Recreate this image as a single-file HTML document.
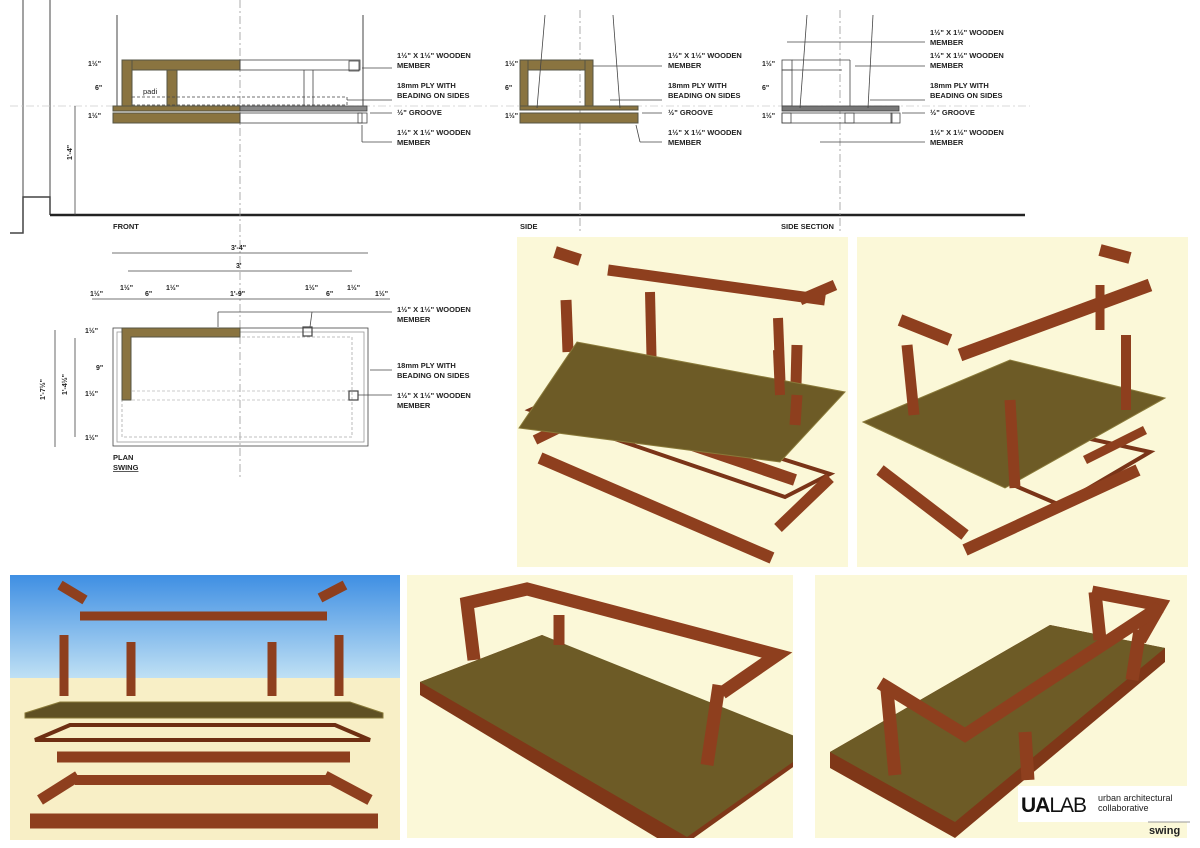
<!DOCTYPE html>
<html><head><meta charset="utf-8"><style>
body{margin:0;background:#fff;}
svg{display:block;font-family:"Liberation Sans",sans-serif;}
.l{font-size:7.5px;font-weight:bold;fill:#222;}
.d{font-size:7px;font-weight:bold;fill:#222;}
</style></head><body>
<svg width="1200" height="848" viewBox="0 0 1200 848" xmlns="http://www.w3.org/2000/svg">
<defs>
<linearGradient id="sky" x1="0" y1="0" x2="0" y2="1">
<stop offset="0" stop-color="#3f8fe3"/><stop offset="1" stop-color="#bfe0f4"/></linearGradient>
</defs>
<g stroke="#444" fill="none" stroke-width="1">
<line x1="23" y1="0" x2="23" y2="197"/><line x1="50" y1="0" x2="50" y2="215"/>
<line x1="117" y1="15" x2="117" y2="110"/><line x1="363" y1="15" x2="363" y2="110"/>
<polyline points="10,233 23,233 23,197 50,197 50,215" stroke-width="1.5"/>
</g>
<line x1="50" y1="215" x2="1025" y2="215" stroke="#222" stroke-width="2.5"/>
<g stroke="#999" stroke-dasharray="8,3,2,3" stroke-width="0.8">
<line x1="240" y1="0" x2="240" y2="480"/><line x1="580" y1="10" x2="580" y2="232"/><line x1="840" y1="10" x2="840" y2="232"/>
<line x1="10" y1="106" x2="1030" y2="106" stroke="#ccc"/>
</g>
<g fill="#8a7440" stroke="#554">
<rect x="122" y="60" width="118" height="10"/><rect x="122" y="60" width="10" height="48"/><rect x="167" y="70" width="10" height="38"/>
<rect x="113" y="106" width="127" height="5"/><rect x="113" y="113" width="127" height="10"/>
</g>
<g fill="none" stroke="#444" stroke-width="0.8">
<rect x="240" y="60" width="120" height="10"/><rect x="240" y="106" width="127" height="5" fill="#888"/><rect x="240" y="113" width="122" height="10"/>
<rect x="349" y="61" width="10" height="10"/><rect x="358" y="113" width="9" height="10"/>
<line x1="304" y1="70" x2="304" y2="106"/><line x1="313" y1="70" x2="313" y2="106"/>
<rect x="132" y="97" width="215" height="8" stroke-dasharray="3,2"/>
<line x1="75" y1="106" x2="75" y2="215"/>
<line x1="362" y1="68" x2="392" y2="68"/><line x1="347" y1="100" x2="392" y2="100"/><line x1="370" y1="113" x2="392" y2="113"/><line x1="362" y1="125" x2="362" y2="142"/><line x1="362" y1="142" x2="392" y2="142"/>
</g>
<text class="l" x="143" y="94" style="font-weight:normal">padi</text>
<text class="d" transform="translate(72,160) rotate(-90)">1'-4"</text>
<text class="d" x="88" y="66">1½"</text><text class="d" x="95" y="90">6"</text><text class="d" x="88" y="118">1½"</text>
<g class="l">
<text x="397" y="58">1½" X 1½" WOODEN</text><text x="397" y="68">MEMBER</text>
<text x="397" y="88">18mm PLY WITH</text><text x="397" y="98">BEADING ON SIDES</text>
<text x="397" y="115">½" GROOVE</text>
<text x="397" y="135">1½" X 1½" WOODEN</text><text x="397" y="145">MEMBER</text>
<text x="668" y="58">1½" X 1½" WOODEN</text><text x="668" y="68">MEMBER</text>
<text x="668" y="88">18mm PLY WITH</text><text x="668" y="98">BEADING ON SIDES</text>
<text x="668" y="115">½" GROOVE</text>
<text x="668" y="135">1½" X 1½" WOODEN</text><text x="668" y="145">MEMBER</text>
<text x="930" y="35">1½" X 1½" WOODEN</text><text x="930" y="45">MEMBER</text>
<text x="930" y="58">1½" X 1½" WOODEN</text><text x="930" y="68">MEMBER</text>
<text x="930" y="88">18mm PLY WITH</text><text x="930" y="98">BEADING ON SIDES</text>
<text x="930" y="115">½" GROOVE</text>
<text x="930" y="135">1½" X 1½" WOODEN</text><text x="930" y="145">MEMBER</text>
<text x="113" y="229">FRONT</text><text x="520" y="229">SIDE</text><text x="781" y="229">SIDE SECTION</text>
</g>
<g fill="#8a7440" stroke="#554">
<rect x="520" y="60" width="73" height="10"/><rect x="520" y="60" width="8" height="48"/><rect x="585" y="60" width="8" height="48"/>
<rect x="520" y="106" width="118" height="4"/><rect x="520" y="113" width="118" height="10"/>
</g>
<g fill="none" stroke="#444" stroke-width="0.8">
<line x1="545" y1="15" x2="537" y2="108"/><line x1="613" y1="15" x2="620" y2="108"/>
<line x1="593" y1="66" x2="662" y2="66"/><line x1="610" y1="100" x2="662" y2="100"/><line x1="642" y1="113" x2="662" y2="113"/><line x1="636" y1="125" x2="640" y2="142"/><line x1="640" y1="142" x2="662" y2="142"/>
<rect x="782" y="60" width="10" height="10"/><rect x="782" y="70" width="10" height="36"/><line x1="792" y1="60" x2="850" y2="60"/><line x1="850" y1="60" x2="850" y2="106"/><line x1="792" y1="70" x2="842" y2="70"/>
<rect x="782" y="106" width="117" height="5" fill="#777"/><rect x="782" y="113" width="110" height="10"/>
<rect x="782" y="113" width="9" height="10"/><rect x="845" y="113" width="9" height="10"/><rect x="891" y="113" width="9" height="10"/>
<line x1="807" y1="15" x2="800" y2="108"/><line x1="873" y1="15" x2="868" y2="108"/>
<line x1="787" y1="42" x2="925" y2="42"/><line x1="855" y1="66" x2="925" y2="66"/><line x1="870" y1="100" x2="925" y2="100"/><line x1="902" y1="113" x2="925" y2="113"/><line x1="820" y1="142" x2="925" y2="142"/>
</g>
<text class="d" x="505" y="66">1½"</text><text class="d" x="505" y="90">6"</text><text class="d" x="505" y="118">1½"</text>
<text class="d" x="762" y="66">1½"</text><text class="d" x="762" y="90">6"</text><text class="d" x="762" y="118">1½"</text>
<g fill="none" stroke="#444" stroke-width="0.8">
<rect x="113" y="328" width="255" height="118"/><rect x="117" y="332" width="247" height="110" stroke="#999"/>
<rect x="122" y="337" width="230" height="100" stroke="#aaa" stroke-dasharray="3,2"/>
<line x1="122" y1="391" x2="352" y2="391" stroke="#bbb" stroke-dasharray="3,2"/><line x1="122" y1="400" x2="352" y2="400" stroke="#bbb" stroke-dasharray="3,2"/>
<rect x="303" y="327" width="9" height="9" stroke-width="1.2"/><rect x="349" y="391" width="9" height="9" stroke-width="1.2"/>
<line x1="112" y1="253" x2="368" y2="253"/><line x1="128" y1="271" x2="352" y2="271"/><line x1="92" y1="299" x2="390" y2="299"/>
<line x1="55" y1="330" x2="55" y2="447"/><line x1="75" y1="338" x2="75" y2="437"/>
<line x1="218" y1="327" x2="218" y2="312"/><line x1="218" y1="312" x2="392" y2="312"/><line x1="310" y1="327" x2="312" y2="312"/>
<line x1="370" y1="370" x2="392" y2="370"/><line x1="358" y1="395" x2="392" y2="395"/>
</g>
<path d="M122 328H240V337H131V400H122Z" fill="#8a7440" stroke="#554"/>
<g class="d"><text x="231" y="250">3'-4"</text><text x="236" y="268">3'</text><text x="230" y="296">1'-9"</text>
<text x="90" y="296">1½"</text><text x="120" y="290">1½"</text><text x="145" y="296">6"</text><text x="166" y="290">1½"</text><text x="305" y="290">1½"</text><text x="326" y="296">6"</text><text x="347" y="290">1½"</text><text x="375" y="296">1½"</text>
<text x="85" y="333">1½"</text><text x="96" y="370">9"</text><text x="85" y="396">1½"</text><text x="85" y="440">1½"</text>
<text transform="translate(45,400) rotate(-90)">1'-7½"</text><text transform="translate(67,395) rotate(-90)">1'-4½"</text></g>
<g class="l"><text x="397" y="312">1½" X 1½" WOODEN</text><text x="397" y="322">MEMBER</text>
<text x="397" y="368">18mm PLY WITH</text><text x="397" y="378">BEADING ON SIDES</text>
<text x="397" y="398">1½" X 1½" WOODEN</text><text x="397" y="408">MEMBER</text>
<text x="113" y="460">PLAN</text><text x="113" y="470" text-decoration="underline">SWING</text></g>

<rect x="517" y="237" width="331" height="330" fill="#fbf8d8"/>
<g stroke="#8e3f1e" stroke-linecap="butt" fill="none">
<line x1="555" y1="252" x2="580" y2="260" stroke-width="12"/>
<line x1="608" y1="270" x2="825" y2="300" stroke-width="11"/>
<line x1="800" y1="300" x2="835" y2="285" stroke-width="11"/>
<line x1="566" y1="300" x2="568" y2="352" stroke-width="11"/><line x1="650" y1="292" x2="652" y2="378" stroke-width="10"/>
<line x1="778" y1="318" x2="781" y2="395" stroke-width="10"/><line x1="797" y1="345" x2="795" y2="425" stroke-width="11"/>
<polygon points="530,410 570,392 830,474 785,497" stroke-width="4" stroke="#7a3418"/>
<line x1="575" y1="405" x2="795" y2="480" stroke-width="12"/>
<line x1="535" y1="440" x2="580" y2="418" stroke-width="10"/>
<line x1="540" y1="458" x2="772" y2="558" stroke-width="12"/>
<line x1="778" y1="528" x2="830" y2="478" stroke-width="11"/>
</g>
<polygon points="519,428 577,342 845,392 780,462" fill="#6d5b26" stroke="#8a7a3a"/>
<line x1="797" y1="395" x2="795" y2="425" stroke="#8e3f1e" stroke-width="11"/>
<line x1="778" y1="350" x2="780" y2="395" stroke="#8e3f1e" stroke-width="10"/>
<rect x="857" y="237" width="331" height="330" fill="#fbf8d8"/>
<g stroke="#8e3f1e" fill="none">
<line x1="1100" y1="250" x2="1130" y2="258" stroke-width="12"/>
<line x1="900" y1="320" x2="950" y2="340" stroke-width="12"/>
<line x1="960" y1="355" x2="1150" y2="285" stroke-width="13"/>
<line x1="1100" y1="285" x2="1100" y2="330" stroke-width="9"/>
<polygon points="880,428 935,405 1150,452 1060,505" stroke-width="4" stroke="#7a3418"/>
<line x1="1085" y1="460" x2="1145" y2="430" stroke-width="9"/>
<line x1="880" y1="470" x2="965" y2="535" stroke-width="12"/>
<line x1="965" y1="550" x2="1138" y2="470" stroke-width="12"/>
</g>
<polygon points="863,422 1010,360 1165,398 1005,488" fill="#6d5b26" stroke="#8a7a3a"/>
<g stroke="#8e3f1e" fill="none">
<line x1="907" y1="345" x2="914" y2="415" stroke-width="11"/><line x1="1010" y1="400" x2="1015" y2="488" stroke-width="11"/>
<line x1="1126" y1="335" x2="1126" y2="410" stroke-width="10"/>
</g>
<rect x="10" y="575" width="390" height="265" fill="#f8efc6"/>
<rect x="10" y="575" width="390" height="103" fill="url(#sky)"/>
<g stroke="#8e3f1e" fill="none">
<line x1="60" y1="585" x2="85" y2="600" stroke-width="10"/><line x1="320" y1="598" x2="345" y2="585" stroke-width="10"/>
<line x1="80" y1="616" x2="327" y2="616" stroke-width="9"/>
<line x1="64" y1="635" x2="64" y2="696" stroke-width="9"/><line x1="131" y1="642" x2="131" y2="696" stroke-width="9"/>
<line x1="272" y1="642" x2="272" y2="696" stroke-width="9"/><line x1="339" y1="635" x2="339" y2="696" stroke-width="9"/>
<polygon points="35,740 70,725 335,725 370,740" stroke-width="4" stroke="#6e2e12"/>
<line x1="57" y1="757" x2="350" y2="757" stroke-width="11"/>
<line x1="40" y1="800" x2="78" y2="776" stroke-width="11"/><line x1="325" y1="776" x2="370" y2="800" stroke-width="11"/>
<line x1="75" y1="780" x2="330" y2="780" stroke-width="10"/>
<line x1="30" y1="821" x2="378" y2="821" stroke-width="15"/>
</g>
<polygon points="25,713 60,702 350,702 383,713 383,718 25,718" fill="#5f5024" stroke="#8a7a3a"/>
<rect x="407" y="575" width="386" height="263" fill="#fbf8d8"/>
<svg x="407" y="575" width="386" height="263" overflow="hidden">
<polygon points="13,107 135,60 410,175 270,275 13,120" fill="#7f3718"/>
<polygon points="13,107 135,60 410,170 280,262" fill="#6d5b26"/>
<g stroke="#8e3f1e" fill="none" stroke-width="13">
<polyline points="67,85 60,28 120,14 370,80 315,118"/>
<line x1="152" y1="40" x2="152" y2="70" stroke-width="11"/>
<line x1="312" y1="110" x2="300" y2="190" stroke-width="13"/>
</g>
</svg>
<rect x="815" y="575" width="372" height="263" fill="#fbf8d8"/>
<polygon points="830,752 1050,625 1165,648 1165,662 955,838 830,768" fill="#7f3718"/>
<polygon points="830,752 1050,625 1165,648 955,822" fill="#6d5b26"/>
<g stroke="#8e3f1e" fill="none" stroke-width="13">
<line x1="1095" y1="592" x2="1100" y2="640"/>
<polyline points="1092,592 1160,605 1140,640"/>
<line x1="1140" y1="630" x2="1132" y2="680"/>
<line x1="887" y1="690" x2="895" y2="775"/>
<line x1="1025" y1="732" x2="1028" y2="780"/>
<polyline points="880,683 965,735 1160,607"/>
</g>
<rect x="1018" y="786" width="172" height="36" fill="#fff"/>
<text x="1021" y="812" font-size="21" font-weight="bold" fill="#111" letter-spacing="-1">UA<tspan font-weight="normal">LAB</tspan></text>
<text x="1098" y="801" font-size="9" fill="#222">urban architectural</text>
<text x="1098" y="811" font-size="9" fill="#222">collaborative</text>
<line x1="1148" y1="822" x2="1190" y2="822" stroke="#999"/>
<text x="1149" y="834" font-size="11" font-weight="bold" fill="#222">swing</text>
</svg>
</body></html>
